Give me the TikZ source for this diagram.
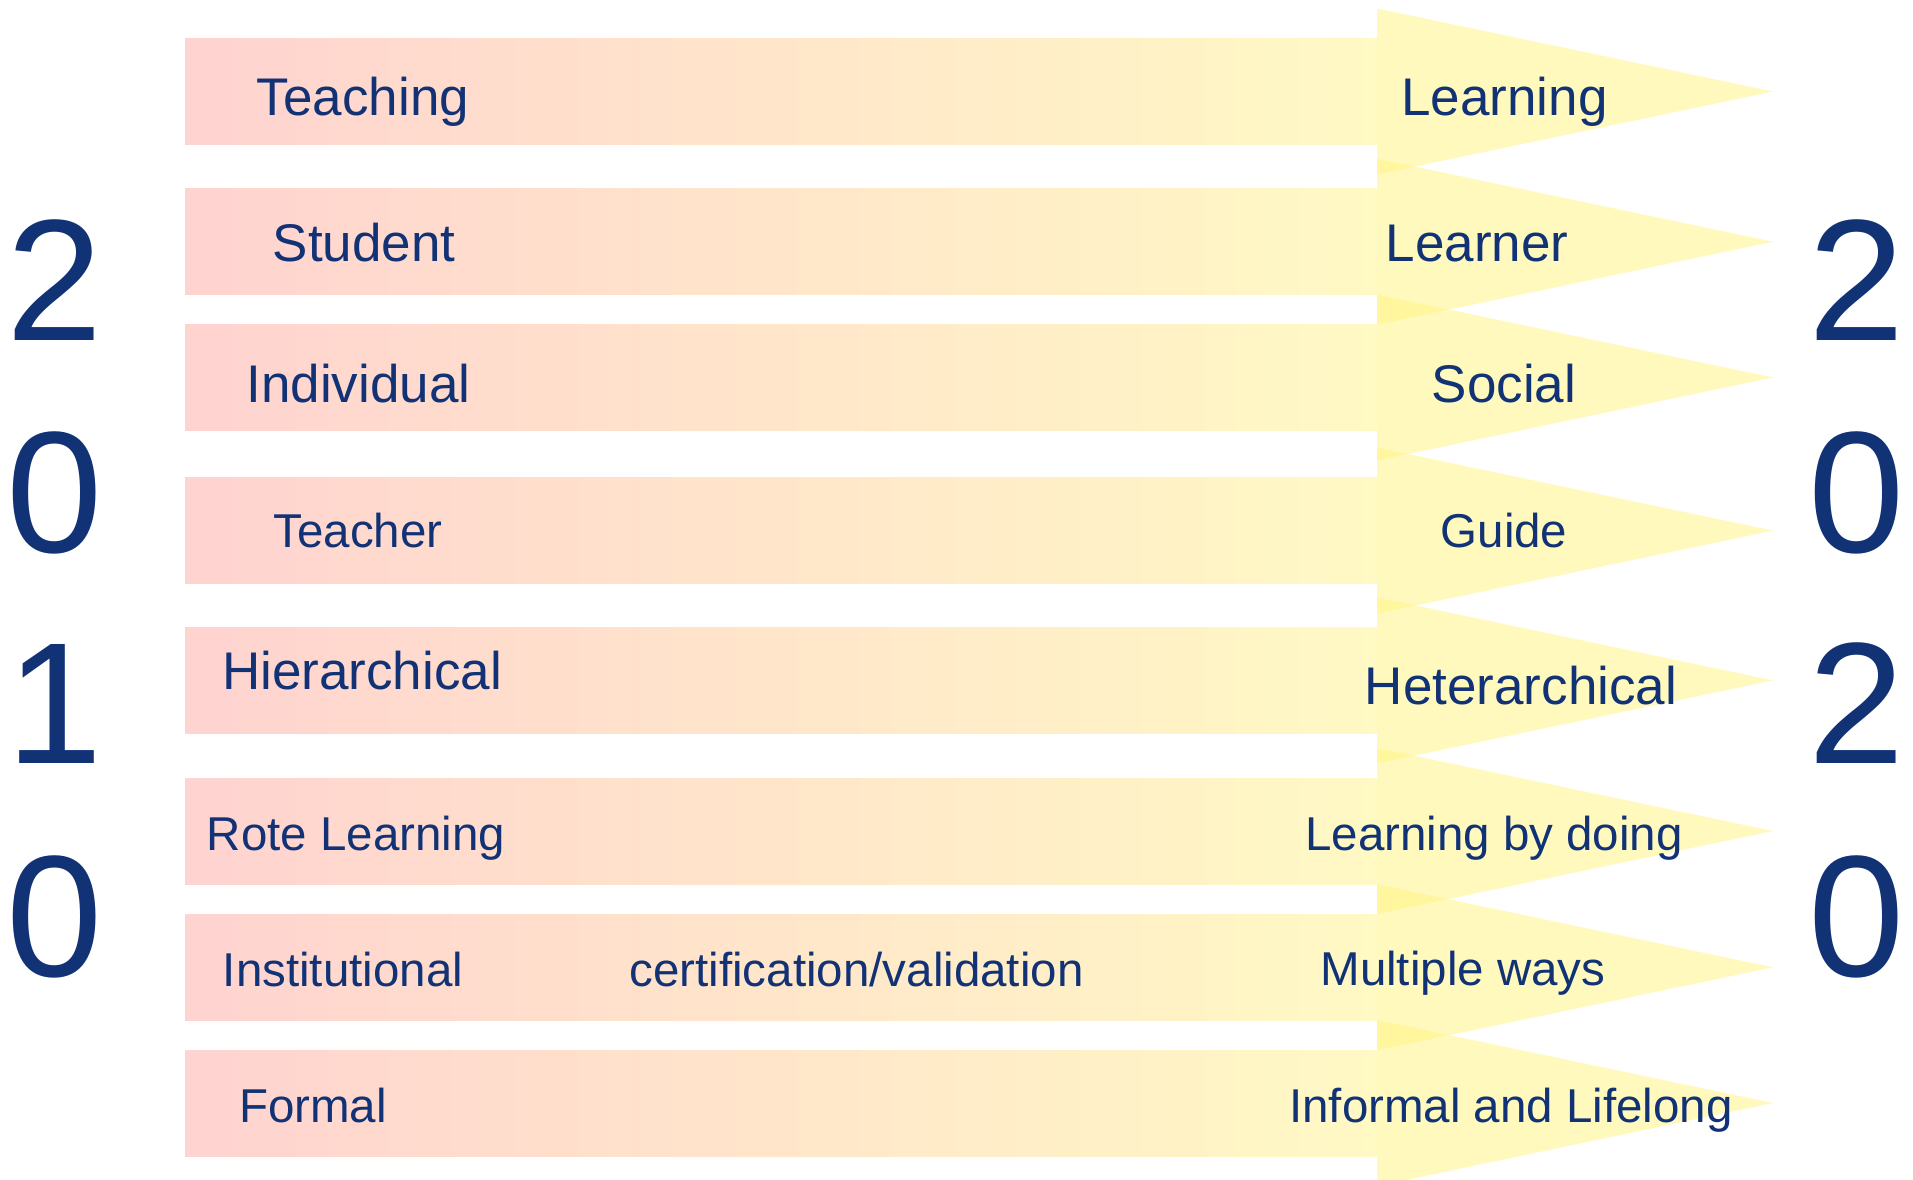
\documentclass[tikz,border=0pt]{standalone}
\usepackage{fontspec}
\setmainfont{Liberation Sans}
\definecolor{txt}{RGB}{18,50,118}
\definecolor{pinkL}{RGB}{255,211,208}
\definecolor{yelR}{RGB}{255,249,196}
\definecolor{headc}{RGB}{255,245,127}
\tikzset{
  big/.style={font=\fontsize{26.5}{30}\selectfont, text=txt, inner sep=0pt, anchor=base},
  small/.style={font=\fontsize{23.75}{28}\selectfont, text=txt, inner sep=0pt, anchor=base},
  digit/.style={font=\fontsize{86.5}{90}\selectfont, text=txt, inner sep=0pt, anchor=base},
  shaft/.style={left color=pinkL, right color=yelR, draw=none},
  head/.style={fill=headc, fill opacity=0.5, draw=none}
}
\begin{document}
\begin{tikzpicture}[x=0.5pt,y=-0.5pt]
\fill[white] (0,0) rectangle (1913,1179);
\useasboundingbox (0,0) rectangle (1913,1179);
% shafts
\foreach \yy in {91.5,241.7,377.5,530.6,680.4,831,967.3,1103}{
  \shade[shaft] (185,\yy-53) rectangle (1377,\yy+53);
}
% heads
\foreach \yy in {91.5,241.7,377.5,530.6,680.4,831,967.3,1103}{
  \fill[head] (1377,\yy-83) -- (1773,\yy) -- (1377,\yy+83) -- cycle;
}
% left labels
\node[big]   (teaching) at (363,115)   {Teaching};
\node[big]   (student)  at (364,261)   {Student};
\node[big]   (indiv)    at (358.5,402) {Individual};
\node[small] (teacher)  at (358,547)   {Teacher};
\node[big]   (hier)     at (362,689.7) {Hierarchical};
\node[small] (rote)     at (356,850)   {Rote Learning};
\node[small] (inst)     at (343,986)   {Institutional};
\node[small] (formal)   at (313,1122)  {Formal};
\node[small] (cert)     at (856.5,986) {certification/validation};
% right labels
\node[big]   (learning) at (1504.6,115) {Learning};
\node[big]   (learner)  at (1477,261)   {Learner};
\node[big]   (social)   at (1504,402)   {Social};
\node[small] (guide)    at (1504,547)   {Guide};
\node[big]   (heter)    at (1521,704)   {Heterarchical};
\node[small] (doing)    at (1494,850.6) {Learning by doing};
\node[small] (multi)    at (1463,985.7) {Multiple ways};
\node[small] (informal) at (1511,1122.7) {Informal and Lifelong};
% years
\node[digit] (l1) at (55,340) {2};
\node[digit] (l2) at (55,552) {0};
\node[digit] (l3) at (55,763) {1};
\node[digit] (l4) at (55,976) {0};
\node[digit] (r1) at (1857,340) {2};
\node[digit] (r2) at (1857,552) {0};
\node[digit] (r3) at (1857,763) {2};
\node[digit] (r4) at (1857,976) {0};
\end{tikzpicture}
\end{document}
